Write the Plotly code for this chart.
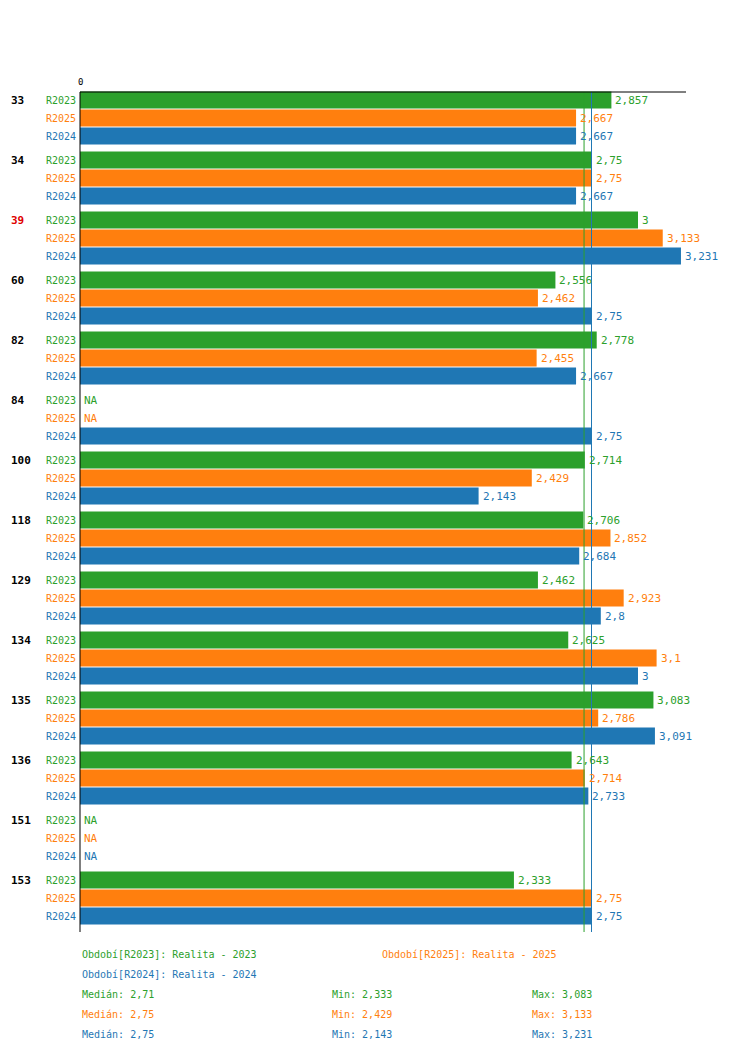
import plotly.graph_objects as go

groups = ["33","34","39","60","82","84","100","118","129","134","135","136","151","153"]
series = ["R2023","R2025","R2024"]
colors = {"R2023":"#2ca02c","R2025":"#ff7f0e","R2024":"#1f77b4"}
values = {
 "R2023":[2.857,2.75,3,2.556,2.778,None,2.714,2.706,2.462,2.625,3.083,2.643,None,2.333],
 "R2025":[2.667,2.75,3.133,2.462,2.455,None,2.429,2.852,2.923,3.1,2.786,2.714,None,2.75],
 "R2024":[2.667,2.667,3.231,2.75,2.667,2.75,2.143,2.684,2.8,3,3.091,2.733,None,2.75],
}
legend_names = {"R2023":"Období[R2023]: Realita - 2023","R2025":"Období[R2025]: Realita - 2025","R2024":"Období[R2024]: Realita - 2024"}
stats = {"R2023":("2,71","2,333","3,083"),"R2025":("2,75","2,429","3,133"),"R2024":("2,75","2,143","3,231")}
medians = {"R2023":2.71,"R2024":2.75}

FONT = "DejaVu Sans Mono"
SCALE = 186.0
OFF = 8  # page body margin
def px(p): return (p-80)/SCALE
def fmt(v): return ("%g" % v).replace(".", ",")

fig = go.Figure()
ann = []
def txt(x, y, t, color, size, anchor="left"):
    ann.append(dict(x=x, y=y, text=t, showarrow=False, xanchor=anchor, yanchor="middle",
                    font=dict(color=color, size=size, family=FONT)))

for k, s in enumerate(series):
    ys, xs = [], []
    for g, v in enumerate(values[s]):
        y = 100 + g*60 + k*18
        ys.append(y); xs.append(v if v is not None else 0)
        txt(px(78), y, s, colors[s], 10, "right")
        txt((v or 0)+px(82), y, fmt(v) if v is not None else "NA", colors[s], 11)
    fig.add_trace(go.Bar(x=xs, y=ys, orientation="h", width=17, marker_color=colors[s],
                         marker_line_width=0, showlegend=False, hoverinfo="skip"))

for g, name in enumerate(groups):
    txt(px(9), 100+g*60, "<b>%s</b>" % name, "#e00000" if name=="39" else "black", 11)

for s, m in medians.items():
    fig.add_shape(type="line", x0=m, x1=m, y0=92, y1=932, line=dict(color=colors[s], width=1))
fig.add_shape(type="line", x0=0, x1=0, y0=92, y1=932, line=dict(color="black", width=1))
fig.add_shape(type="line", x0=0, x1=px(686), y0=92, y1=92, line=dict(color="black", width=1))
txt(0, 82, "0", "black", 9, "center")

leg_pos = {"R2023":(80,954),"R2025":(380,954),"R2024":(80,974)}
for s,(lx,ly) in leg_pos.items():
    txt(px(lx), ly, legend_names[s], colors[s], 10)
for i, s in enumerate(series):
    med, mn, mx = stats[s]
    yy = 994 + i*20
    for lx, t in [(80,"Medián: "+med),(330,"Min: "+mn),(530,"Max: "+mx)]:
        txt(px(lx), yy, t, colors[s], 10)

txt(px(0), 9, "<b>6. Řízení lidských zdrojů, vzdělávání zaměstnanců</b>", "black", 14)
txt(px(0), 30, "<b>6.4.2 Index stáří úřadu</b>", "black", 14)
txt(px(0), 50, "Typ: Počítaný podle vzorce, Vyhodnocení: Absolutní hodnoty, Průměr: Medián", "black", 10)

fig.update_layout(
    width=750, height=1052, margin=dict(l=0, r=0, t=0, b=0),
    plot_bgcolor="white", paper_bgcolor="white", barmode="overlay",
    annotations=ann, font=dict(family=FONT),
    xaxis=dict(range=[px(OFF), px(750+OFF)], visible=False),
    yaxis=dict(range=[1052+OFF, OFF], visible=False),
)
fig.write_html("out.html")
